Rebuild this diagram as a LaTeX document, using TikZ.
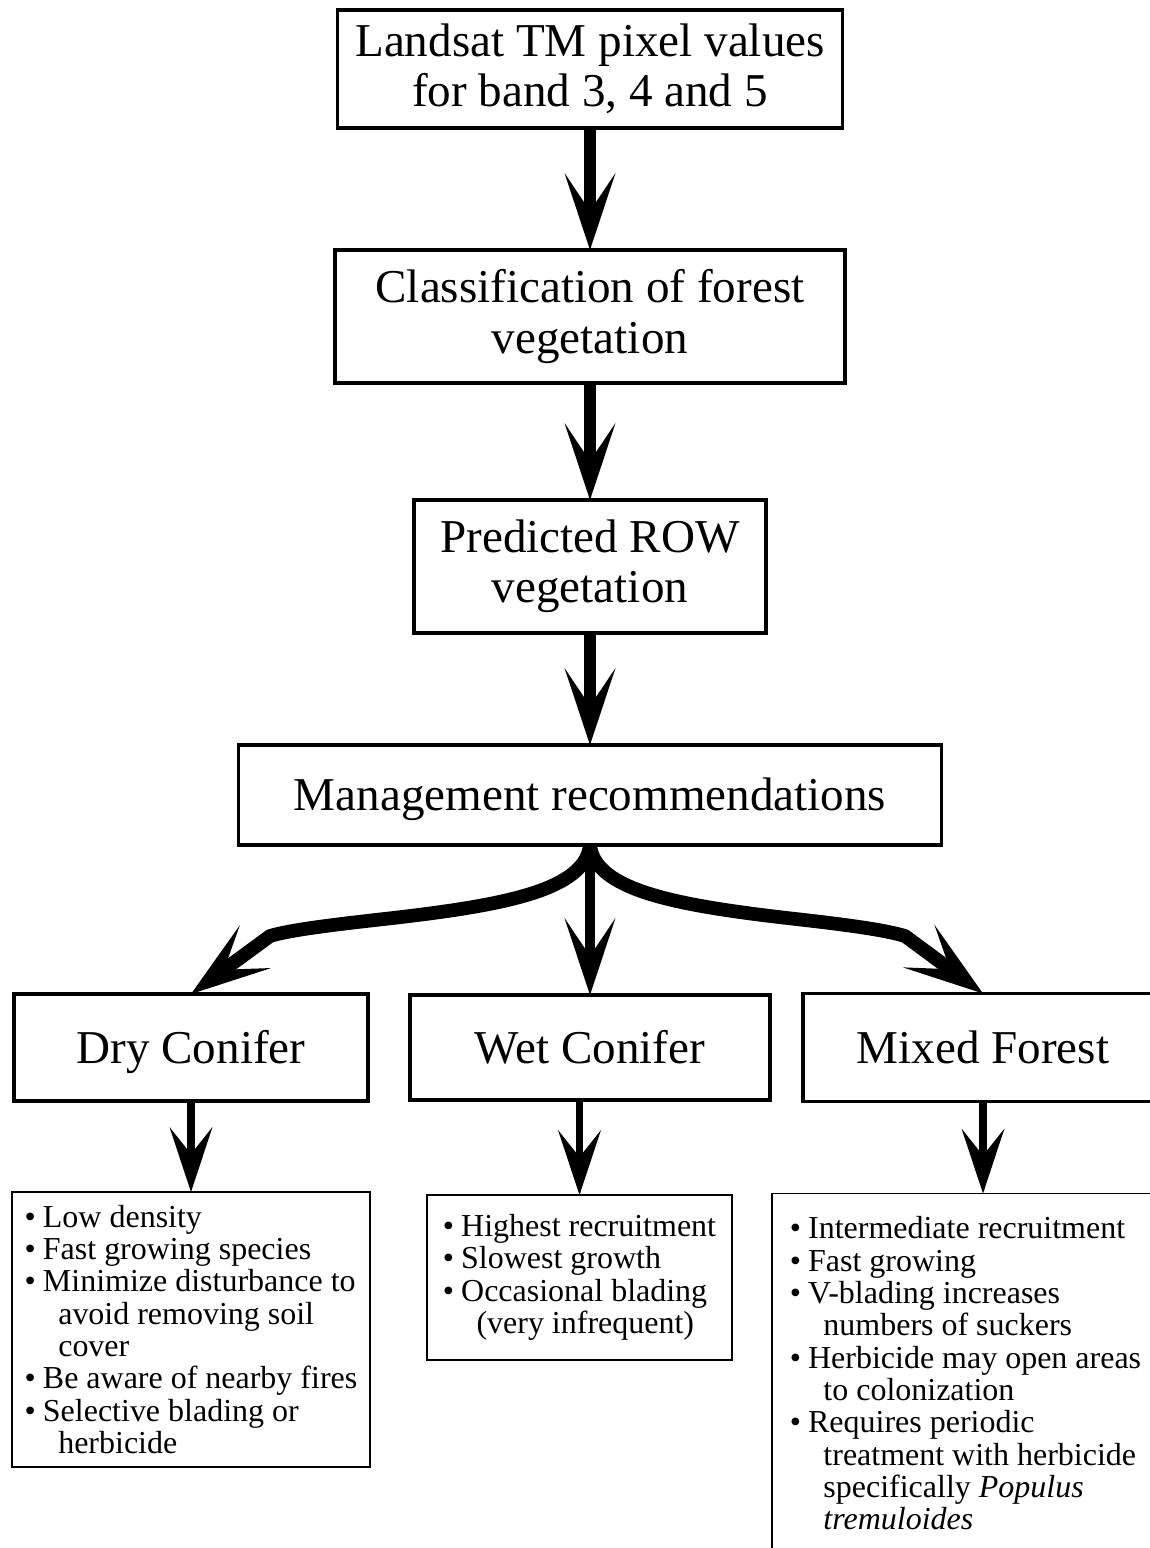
\documentclass[tikz,border=0pt]{standalone}
\usepackage{fontspec}
\setmainfont{Liberation Serif}
\usepackage{tikz}
\usetikzlibrary{arrows.meta,positioning,calc}

\newcommand{\bitem}{\textbullet\hspace{0.22em}}
\newcommand{\bcont}{\hspace*{1.05em}}

\begin{document}
\begin{tikzpicture}[
    main_box/.style={draw=black, line width=2.2pt, align=center, inner sep=0pt, outer sep=0pt, font=\fontsize{26.8}{28.5}\selectfont},
    one_line/.style={text height=17.7pt, text depth=0pt},
    list_box/.style={draw=black, line width=1.1pt, align=left, inner sep=0pt, outer sep=0pt, font=\fontsize{18.2}{18.4}\selectfont},
    big_arrow/.style={-{Stealth[length=1.54cm 0, width=1.02cm 0, inset=0.76cm 0, line width=0pt]}, line width=6.8pt},
    branch_arrow/.style={-{Stealth[length=1.6cm 0, width=1.06cm 0, inset=0.78cm 0, line width=0pt]}, line width=7.8pt, line join=round},
    small_arrow/.style={-{Stealth[length=1.3cm 0, width=0.86cm 0, inset=0.54cm 0, line width=0pt]}, line width=4.5pt}
]
\useasboundingbox (0,0) rectangle (23,-30.96);
\clip (0,0) rectangle (23,-30.96);

% PROCESSING CHAIN
\node[main_box, minimum width=10.1cm, minimum height=2.36cm] (landsat) at (11.8,-1.38) {Landsat TM pixel values\\for band 3, 4 and 5};
\node[main_box, minimum width=10.2cm, minimum height=2.66cm, below=2.44cm of landsat] (classif) {Classification of forest\\vegetation};
\node[main_box, minimum width=7.04cm, minimum height=2.66cm, below=2.34cm of classif] (predicted) {Predicted ROW\\vegetation};
\node[main_box, one_line, minimum width=14.06cm, minimum height=2.0cm, below=2.24cm of predicted] (mgmt) {Management recommendations};

% FOREST TYPES
\node[main_box, one_line, minimum width=7.2cm, minimum height=2.1cm, below=3.0cm of mgmt] (wet) {Wet Conifer};
\node[main_box, one_line, minimum width=7.08cm, minimum height=2.14cm, left=0.84cm of wet] (dry) {Dry Conifer};
\node[main_box, one_line, minimum width=7.2cm, minimum height=2.16cm, right=0.66cm of wet] (mixed) {Mixed Forest};

% RECOMMENDATION LISTS
\node[list_box, minimum width=7.16cm, minimum height=5.5cm, below=1.82cm of dry] (dry_list) {%
\bitem Low density\\
\bitem Fast growing species\\
\bitem Minimize disturbance to\\
\bcont avoid removing soil\\
\bcont cover\\
\bitem Be aware of nearby fires\\
\bitem Selective blading or\\
\bcont herbicide};
\node[list_box, minimum width=6.1cm, minimum height=3.3cm, below=1.9cm of wet, xshift=-0.21cm] (wet_list) {%
\bitem Highest recruitment\\
\bitem Slowest growth\\
\bitem Occasional blading\\
\bcont (very infrequent)};
\node[list_box, minimum width=7.74cm, inner ysep=0.46cm, text depth=8cm, below=1.84cm of mixed.south west, anchor=north west, xshift=-0.62cm] (mixed_list) {%
\bitem Intermediate recruitment\\
\bitem Fast growing\\
\bitem V-blading increases\\
\bcont numbers of suckers\\
\bitem Herbicide may open areas\\
\bcont to colonization\\
\bitem Requires periodic\\
\bcont treatment with herbicide\\
\bcont specifically \textit{Populus}\\
\bcont \textit{tremuloides}};

% ARROWS
\draw[big_arrow] (landsat.south) -- (classif.north);
\draw[big_arrow] (classif.south) -- (predicted.north);
\draw[big_arrow] (predicted.south) -- (mgmt.north);

\draw[branch_arrow] (mgmt.south) .. controls (11.7,-17.8) and (10.1,-18.1) .. (7.86,-18.36)
    .. controls (6.6,-18.5) and (5.8,-18.6) .. (5.4,-18.72) -- (dry.north);
\draw[branch_arrow] (mgmt.south) .. controls (11.9,-17.8) and (13.5,-18.1) .. (15.74,-18.36)
    .. controls (17.0,-18.5) and (17.7,-18.6) .. (18.1,-18.72) -- (mixed.north);
\draw[big_arrow, line width=5.4pt] (mgmt.south) -- (wet.north);

\draw[small_arrow] (dry.south) -- (dry_list.north);
\draw[small_arrow] (wet.south -| wet_list.north) -- (wet_list.north);
\draw[small_arrow] (mixed.south) -- (mixed.south |- mixed_list.north);

\end{tikzpicture}
\end{document}
